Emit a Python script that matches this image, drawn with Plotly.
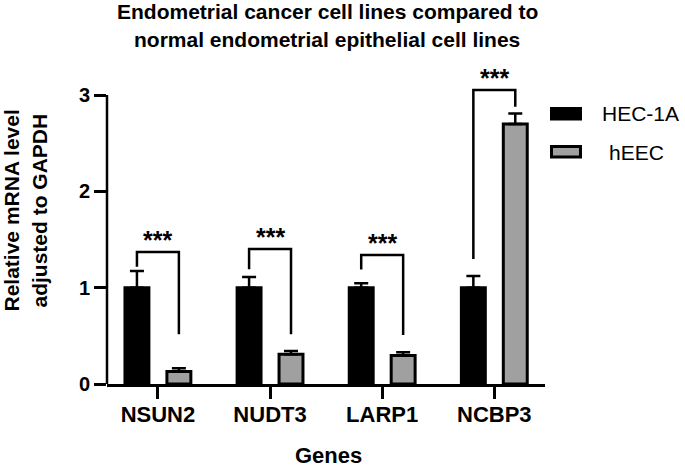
import plotly.graph_objects as go

# ---------------- data ----------------
genes = ["NSUN2", "NUDT3", "LARP1", "NCBP3"]
hec1a_mean = [1.00, 1.00, 1.00, 1.00]
hec1a_err = [0.173, 0.111, 0.046, 0.121]
heec_mean = [0.13, 0.31, 0.295, 2.70]
heec_err = [0.033, 0.033, 0.034, 0.11]
series_names = ["HEC-1A", "hEEC"]

# significance brackets
sig_labels = ["***", "***", "***", "***"]
bracket_top = [1.371, 1.402, 1.34, 3.053]
bracket_left_bottom = [1.218, 1.191, 1.19, 1.298]
bracket_right_bottom = [0.516, 0.516, 0.509, 2.88]

y_ticks = [0, 1, 2, 3]
title_lines = ["Endometrial cancer cell lines compared to",
               "normal endometrial epithelial cell lines"]
y_title_lines = ["Relative mRNA level", "adjusted to GAPDH"]
x_title = "Genes"

# ---------------- layout geometry ----------------
W, H = 685, 470
ML, MR, MT, MB = 107, 140, 62, 86
PW = W - ML - MR
PH = H - MT - MB
Y_BOTTOM_PX = H - MB


def px_x(p):
    return (p - ML) / PW


def px_y(p):
    return (Y_BOTTOM_PX - p) / PH


FONT = "Arial, 'Liberation Sans', Helvetica, sans-serif"
GRAY = "#a0a0a0"
BAR_W = 0.2135
CENTER_OFF = 0.187
LW = 2.5

xs = list(range(len(genes)))

fig = go.Figure()
fig.add_trace(go.Bar(
    x=xs, y=hec1a_mean, name=series_names[0],
    width=BAR_W, offset=-CENTER_OFF - BAR_W / 2,
    marker=dict(color="black", line=dict(color="black", width=3)),
    error_y=dict(type="data", symmetric=False, array=hec1a_err,
                 arrayminus=[0] * len(genes), color="black",
                 thickness=LW, width=7),
))
fig.add_trace(go.Bar(
    x=xs, y=heec_mean, name=series_names[1],
    width=BAR_W, offset=CENTER_OFF - BAR_W / 2,
    marker=dict(color=GRAY, line=dict(color="black", width=3)),
    error_y=dict(type="data", symmetric=False, array=heec_err,
                 arrayminus=[0] * len(genes), color="black",
                 thickness=LW, width=7),
))

shapes = []
annotations = []

# brackets + stars
for i in xs:
    lx = i - CENTER_OFF
    rx = i + CENTER_OFF
    shapes.append(dict(
        type="path", xref="x", yref="y",
        path=f"M {lx},{bracket_left_bottom[i]} L {lx},{bracket_top[i]} "
             f"L {rx},{bracket_top[i]} L {rx},{bracket_right_bottom[i]}",
        line=dict(color="black", width=LW),
    ))
    annotations.append(dict(
        x=i, y=bracket_top[i], xref="x", yref="y", text=sig_labels[i],
        showarrow=False, yanchor="middle", xanchor="center", yshift=12,
        font=dict(family=FONT, size=25, color="black", weight="bold"),
    ))

# y-axis line from 0 to 3
shapes.append(dict(type="line", xref="paper", yref="y", x0=0, x1=0,
                   y0=0, y1=max(y_ticks),
                   line=dict(color="black", width=LW)))

# legend (manual)
legend_fill = ["black", GRAY]
legend_rows_px = [(108.5, 119), (146.5, 157)]
legend_text_y = [113.5, 152]
legend_text_x = [600, 607]
for k in range(2):
    y0p, y1p = legend_rows_px[k]
    shapes.append(dict(type="rect", xref="paper", yref="paper",
                       x0=px_x(551.5), x1=px_x(580.5),
                       y0=px_y(y1p), y1=px_y(y0p),
                       fillcolor=legend_fill[k],
                       line=dict(color="black", width=3)))
    annotations.append(dict(
        x=px_x(legend_text_x[k]), y=px_y(legend_text_y[k]),
        xref="paper", yref="paper", text=series_names[k], showarrow=False,
        xanchor="left", yanchor="middle",
        font=dict(family=FONT, size=21, color="black"),
    ))

# titles
title_y_px = [11, 40]
for k, line in enumerate(title_lines):
    annotations.append(dict(
        x=px_x(327), y=px_y(title_y_px[k]), xref="paper", yref="paper",
        text=line, showarrow=False, xanchor="center", yanchor="middle",
        font=dict(family=FONT, size=21, color="black", weight="bold"),
    ))

ytitle_x_px = [10.5, 38.5]
for k, line in enumerate(y_title_lines):
    annotations.append(dict(
        x=px_x(ytitle_x_px[k]), y=px_y(211), xref="paper", yref="paper",
        text=line, showarrow=False, textangle=-90,
        xanchor="center", yanchor="middle",
        font=dict(family=FONT, size=21, color="black", weight="bold"),
    ))

annotations.append(dict(
    x=px_x(328), y=px_y(455), xref="paper", yref="paper",
    text=x_title, showarrow=False, xanchor="center", yanchor="middle",
    font=dict(family=FONT, size=22, color="black", weight="bold"),
))

fig.update_layout(
    width=W, height=H,
    margin=dict(l=ML, r=MR, t=MT, b=MB, pad=0),
    plot_bgcolor="white", paper_bgcolor="white",
    showlegend=False,
    barmode="group",
    font=dict(family=FONT, color="black"),
    shapes=shapes, annotations=annotations,
    xaxis=dict(
        range=[-0.454, 3.452], tickmode="array", tickvals=xs, ticktext=genes,
        showline=True, linecolor="black", linewidth=LW,
        ticks="outside", ticklen=12, tickwidth=LW, tickcolor="black",
        ticklabelstandoff=-3,
        showgrid=False, zeroline=False,
        tickfont=dict(family=FONT, size=22, color="black", weight="bold"),
    ),
    yaxis=dict(
        range=[0, 3.344], tickmode="array", tickvals=y_ticks,
        showline=False, ticks="outside", ticklen=12, tickwidth=LW,
        tickcolor="black", showgrid=False, zeroline=False,
        tickfont=dict(family=FONT, size=20, color="black", weight="bold"),
    ),
)

fig.write_html(
    "out.html",
    config={"displayModeBar": False},
    post_script="document.body.style.margin='0px';"
                "document.body.style.overflow='hidden';",
)
